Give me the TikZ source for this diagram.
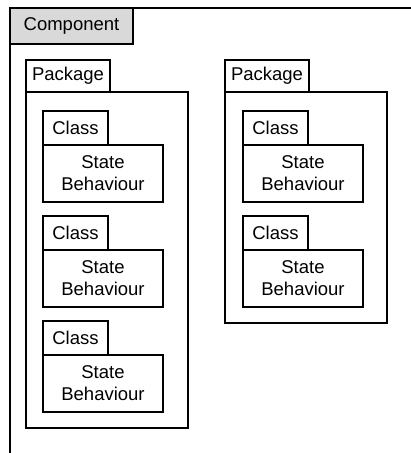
\documentclass[tikz,border=0pt]{standalone}
\usepackage{fontspec}
\setmainfont{Liberation Sans}
\begin{document}
\begin{tikzpicture}[x=1pt,y=-1pt,
  box/.style={draw, line width=2.6pt, outer sep=0pt, inner sep=0pt,
    anchor=north west, align=center,
    font=\fontsize{18.5}{22}\selectfont},
  comptab/.style={box, fill=gray!30, minimum width=123pt, minimum height=36pt},
  pkgtab/.style={box, minimum width=84pt, minimum height=32pt},
  classtab/.style={box, minimum width=65pt, minimum height=34pt},
  classbody/.style={box, minimum width=120pt, minimum height=57pt},
  frame/.style={line width=2.6pt}]
\useasboundingbox (0,0) rectangle (411,453);

% a class: name tab on top, state and behaviour compartment below
\newcommand\umlclass[3]{%
  \node[classtab] (#1tab) at (#2,#3) {Class};
  \node[classbody] (#1body) at (#1tab.south west) {State\\Behaviour};
}

% component frame, running off the right and bottom edges
\coordinate (frameTL) at (10,8);
\coordinate (frameTR) at (416,8);
\coordinate (frameBL) at (10,458);
\draw[frame] (frameTR) -- (frameTL) -- (frameBL);
\node[comptab] (comp) at (frameTL) {Component};

% left package with three classes
\node[pkgtab] (pkgAtab) at (26,60) {Package};
\node[box, minimum width=162pt, minimum height=336pt] (pkgA) at (pkgAtab.south west) {};
\umlclass{a1}{43}{111}
\umlclass{a2}{43}{216}
\umlclass{a3}{43}{321}

% right package with two classes
\node[pkgtab] (pkgBtab) at (225,60) {Package};
\node[box, minimum width=162pt, minimum height=231pt] (pkgB) at (pkgBtab.south west) {};
\umlclass{b1}{243}{111}
\umlclass{b2}{243}{216}
\end{tikzpicture}
\end{document}
